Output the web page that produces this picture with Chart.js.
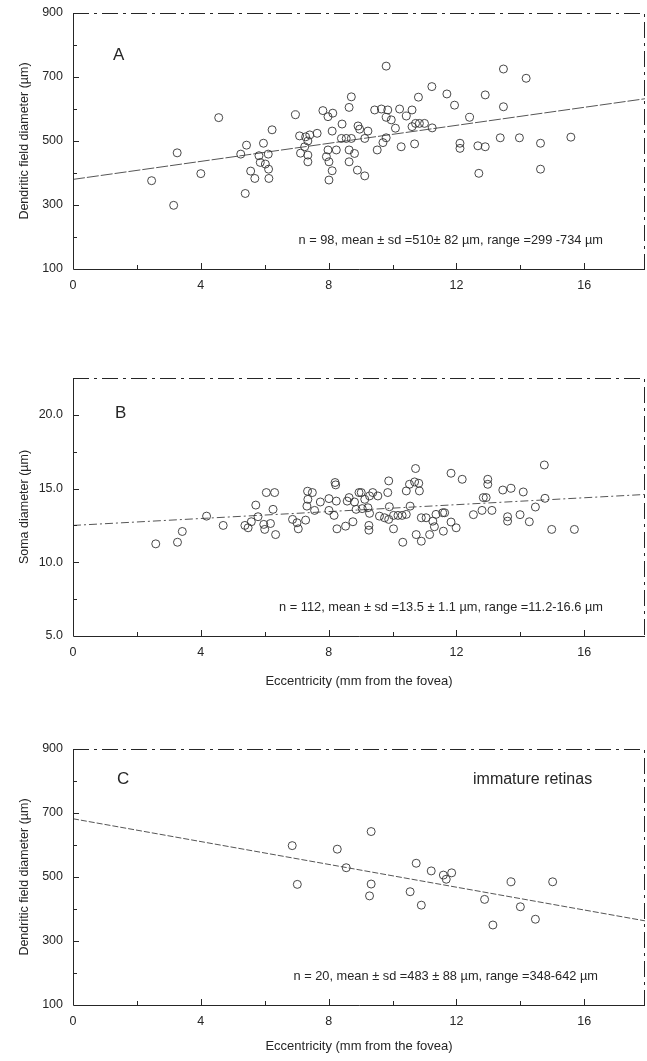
<!DOCTYPE html>
<html>
<head>
<meta charset="utf-8">
<script src="https://cdn.jsdelivr.net/npm/chart.js@4.4.0/dist/chart.umd.min.js"></script>
<style>
    html, body { margin: 0; padding: 0; background: #fff; overflow: hidden; }
    #page { position: relative; width: 647px; height: 1061px; overflow: hidden; }
    canvas { position: absolute; left: 0; }
</style>
</head>
<body>
<div id="page">
    <canvas id="chartA" width="654" height="310" style="top:-10px"></canvas>
    <canvas id="chartB" width="654" height="340" style="top:360px"></canvas>
    <canvas id="chartC" width="654" height="331" style="top:730px"></canvas>
</div>
<script>
// Dados (excentricidade em mm, diâmetros em µm)

// Painel A - diâmetro do campo dendrítico
const eccA = [2.46, 3.15, 3.26, 4.0, 4.56, 5.25, 5.43, 5.39, 5.56, 5.69, 5.82, 5.86, 5.96, 6.02, 6.11, 6.12, 6.13, 6.23,
    6.96, 7.09, 7.12, 7.25, 7.28, 7.35, 7.35, 7.35, 7.41, 7.64, 7.82, 7.98, 8.13, 7.93, 7.98, 8.01, 8.01, 8.11, 8.11, 8.24,
    8.42, 8.40, 8.55, 8.71, 8.64, 8.71, 8.64, 8.64, 8.81, 8.92, 8.90, 8.97, 9.13, 9.23, 9.13, 9.80, 9.44, 9.65, 9.85, 9.80,
    9.96, 10.22, 10.43, 10.61, 10.81, 10.09, 9.80, 9.70, 9.52, 10.27, 10.69, 10.61, 10.72, 10.84, 11.0, 11.24, 11.23, 11.70,
    11.94, 12.11, 12.11, 12.41, 12.67, 12.90, 12.70, 12.90, 13.37, 13.47, 13.47, 13.97, 14.18, 14.63, 14.63, 15.58];
const fieldA = [376, 299, 463, 398, 573, 459, 487, 336, 406, 383, 454, 433, 493, 428, 459, 412, 383, 535,
    582, 516, 462, 482, 513, 500, 456, 435, 519, 524, 595, 576, 587, 451, 472, 435, 378, 407, 531, 472,
    553, 508, 508, 508, 605, 638, 472, 435, 461, 547, 409, 537, 508, 531, 391, 734, 597, 600, 597, 574,
    566, 600, 578, 597, 637, 540, 510, 495, 472, 482, 491, 545, 555, 555, 555, 541, 670, 647,
    612, 493, 477, 574, 485, 482, 399, 644, 510, 607, 725, 510, 696, 493, 412, 512];

// Painel B - diâmetro do soma
const eccB = [2.59, 3.27, 3.42, 4.18, 4.70, 5.38, 5.48, 5.58, 5.72, 5.79, 5.97, 6.05, 6.31, 6.18, 6.0, 6.26, 6.34,
    6.87, 7.01, 7.05, 7.28, 7.32, 7.35, 7.34, 7.49, 7.56, 7.74, 8.01, 8.01, 8.20, 8.22, 8.24, 8.17, 8.26, 8.53, 8.64,
    8.58, 8.76, 8.81, 8.86, 8.95, 9.02, 9.13, 9.28, 9.05, 9.23, 9.28, 9.26, 9.26, 9.38, 9.54, 9.59, 9.75, 9.88, 9.88,
    9.85, 9.90, 10.03, 10.03, 10.17, 10.30, 10.43, 10.32, 10.43, 10.53, 10.69, 10.82, 10.84, 10.72, 10.55, 10.90, 11.05,
    10.74, 10.90, 11.16, 11.31, 11.26, 11.36, 11.57, 11.63, 11.59, 11.83, 11.99, 11.83, 12.18, 12.53, 12.80, 13.11,
    12.84, 12.93, 12.98, 12.98, 13.45, 13.71, 13.60, 13.60, 13.99, 14.09, 14.28, 14.47, 14.75, 14.77, 14.98, 15.69];
const somaB = [11.25, 11.36, 12.09, 13.13, 12.5, 12.5, 12.34, 12.75, 13.88, 13.09, 12.57, 14.73, 14.73, 12.63, 12.23, 13.59, 11.88,
    12.91, 12.68, 12.27, 12.86, 13.81, 14.27, 14.82, 14.73, 13.52, 14.09, 13.52, 14.32, 15.41, 15.25, 14.15, 13.18, 12.27, 12.45, 14.39,
    14.15, 12.75, 14.09, 13.59, 14.73, 14.73, 14.27, 14.5, 13.64, 13.7, 13.32, 12.5, 12.18, 14.73, 14.5, 13.13, 13.02, 12.91, 15.52,
    14.73, 13.77, 13.18, 12.27, 13.18, 13.18, 13.25, 11.36, 14.84, 15.29, 15.45, 15.36, 14.84, 16.36, 13.81, 13.02, 13.02,
    11.88, 11.43, 11.88, 12.41, 12.79, 13.25, 13.36, 13.36, 12.11, 12.73, 12.34, 16.04, 15.63, 13.23, 13.52, 13.52,
    14.39, 14.39, 15.63, 15.29, 14.9, 15.02, 13.09, 12.79, 13.23, 14.77, 12.75, 13.75, 16.6, 14.34, 12.23, 12.23];

// Painel C - retinas imaturas
const eccC = [6.86, 7.02, 8.27, 8.55, 9.33, 9.33, 9.28, 10.74, 10.55, 10.90, 11.21, 11.59, 11.68, 11.85, 12.88, 13.14, 13.71, 14.0, 14.47, 15.01];
const fieldC = [598, 477, 587, 529, 642, 478, 441, 543, 454, 412, 519, 506, 493, 513, 430, 350, 485, 407, 368, 485];

// Retas de regressão (valores nas extremidades do eixo x)
const fitX = [0, 17.9];
const fitA = [380, 632];
const fitB = [12.5, 14.6];
const fitC = [682, 363];

// Rótulos dos eixos
const xLabels = [0, 4, 8, 12, 16];
const yLabelsField = [100, 300, 500, 700, 900];
const yLabelsSoma = [5, 10, 15, 20];

const FONT = "'Liberation Sans', Arial, Helvetica, sans-serif";
const INK = '#262626';

// Plugin que desenha a moldura, os traços internos e os textos de cada painel
const panelDecor = {
    id: 'panelDecor',
    afterDraw(chart, args, opts) {
        const { ctx, chartArea } = chart;
        const { left, right, top, bottom } = chartArea;
        ctx.save();
        ctx.strokeStyle = INK;
        ctx.lineWidth = 1;

        // eixos esquerdo e inferior (contínuos)
        ctx.beginPath();
        ctx.moveTo(left + 0.5, top);
        ctx.lineTo(left + 0.5, bottom + 0.5);
        ctx.lineTo(right, bottom + 0.5);
        ctx.stroke();

        // bordas superior e direita (traço-ponto)
        ctx.setLineDash([16, 5, 3, 5]);
        ctx.beginPath();
        ctx.moveTo(left, top + 0.5);
        ctx.lineTo(right - 0.5, top + 0.5);
        ctx.lineTo(right - 0.5, bottom);
        ctx.stroke();
        ctx.setLineDash([]);

        // traços dos ticks, voltados para dentro
        const xs = chart.scales.x;
        xs.ticks.forEach(t => {
            if (t.value <= xs.min || t.value >= xs.max) return;
            const px = Math.round(xs.getPixelForValue(t.value)) + 0.5;
            const len = t.label ? 6 : 4;
            ctx.beginPath();
            ctx.moveTo(px, bottom);
            ctx.lineTo(px, bottom - len);
            ctx.stroke();
        });
        const ys = chart.scales.y;
        ys.ticks.forEach(t => {
            if (t.value <= ys.min || t.value >= ys.max) return;
            const py = Math.round(ys.getPixelForValue(t.value)) + 0.5;
            const len = t.label ? 6 : 4;
            ctx.beginPath();
            ctx.moveTo(left, py);
            ctx.lineTo(left + len, py);
            ctx.stroke();
        });

        // letra do painel
        ctx.fillStyle = INK;
        ctx.textBaseline = 'middle';
        ctx.textAlign = 'left';
        ctx.font = '17px ' + FONT;
        ctx.fillText(opts.letter, left + opts.letterDx, top + opts.letterDy);

        // texto extra (ex.: "immature retinas")
        if (opts.extra) {
            ctx.font = '16px ' + FONT;
            ctx.fillText(opts.extra, left + opts.extraDx, top + opts.extraDy);
        }

        // estatísticas
        ctx.font = '12.8px ' + FONT;
        ctx.textAlign = 'right';
        ctx.fillText(opts.note, opts.noteRight, bottom - 29);
        ctx.restore();
    }
};

// Função para criar um painel (gráfico de dispersão + reta de regressão)
function makePanel(canvasId, cfg) {
    const canvas = document.getElementById(canvasId);
    const ctx = canvas.getContext('2d');
    const points = cfg.xs.map((x, i) => ({ x: x, y: cfg.ys[i] }));
    const line = fitX.map((x, i) => ({ x: x, y: cfg.fit[i] }));

    return new Chart(ctx, {
        type: 'scatter',
        data: {
            datasets: [{
                data: points,
                pointStyle: 'circle',
                pointRadius: 4,
                pointHoverRadius: 4,
                pointBorderWidth: 0.9,
                borderColor: '#333',
                backgroundColor: 'rgba(0,0,0,0)'
            }, {
                type: 'line',
                data: line,
                borderColor: '#555',
                borderWidth: 1,
                borderDash: cfg.fitDash,
                pointRadius: 0,
                fill: false
            }]
        },
        options: {
            responsive: false,
            animation: false,
            devicePixelRatio: 1,
            layout: { padding: { top: cfg.padTop, right: 2, left: 0, bottom: 0 } },
            plugins: {
                legend: { display: false },
                tooltip: { enabled: false },
                panelDecor: cfg.decor
            },
            scales: {
                x: {
                    type: 'linear',
                    min: 0,
                    max: 17.9,
                    grid: { display: false, drawTicks: false },
                    border: { display: false },
                    ticks: {
                        stepSize: 2,
                        autoSkip: false,
                        maxRotation: 0,
                        padding: 9,
                        color: INK,
                        font: { family: FONT, size: 12.5 },
                        callback: v => xLabels.includes(v) ? String(v) : ''
                    },
                    title: {
                        display: cfg.xTitle,
                        text: 'Eccentricity (mm from the fovea)',
                        color: INK,
                        font: { family: FONT, size: 13 },
                        padding: { top: 0, bottom: cfg.xTitlePad }
                    },
                    afterFit: s => { s.height = cfg.xHeight; }
                },
                y: {
                    type: 'linear',
                    min: cfg.yMin,
                    max: cfg.yMax,
                    grid: { display: false, drawTicks: false },
                    border: { display: false },
                    ticks: {
                        stepSize: cfg.yStep,
                        autoSkip: false,
                        padding: 10,
                        color: INK,
                        font: { family: FONT, size: 12.5 },
                        callback: v => cfg.yLabels.includes(v) ? cfg.yFormat(v) : ''
                    },
                    title: {
                        display: true,
                        text: cfg.yTitle,
                        color: INK,
                        font: { family: FONT, size: 12.5 },
                        padding: { top: 17, bottom: 0 }
                    },
                    afterFit: s => { s.width = 73; }
                }
            }
        },
        plugins: [panelDecor]
    });
}

makePanel('chartA', {
    xs: eccA, ys: fieldA, fit: fitA, fitDash: [12, 2],
    yMin: 100, yMax: 900, yStep: 100, yLabels: yLabelsField, yFormat: v => String(v),
    yTitle: 'Dendritic field diameter (µm)',
    padTop: 23, xHeight: 31, xTitle: false, xTitlePad: 0,
    decor: { letter: 'A', letterDx: 40, letterDy: 42,
        note: 'n = 98, mean ± sd =510± 82 µm, range =299 -734 µm', noteRight: 603 }
});

makePanel('chartB', {
    xs: eccB, ys: somaB, fit: fitB, fitDash: [8, 3, 2, 3],
    yMin: 5, yMax: 22.5, yStep: 2.5, yLabels: yLabelsSoma, yFormat: v => v.toFixed(1),
    yTitle: 'Soma diameter (µm)',
    padTop: 18, xHeight: 64, xTitle: true, xTitlePad: 11,
    decor: { letter: 'B', letterDx: 42, letterDy: 35,
        note: 'n = 112, mean ± sd =13.5 ± 1.1 µm, range =11.2-16.6 µm', noteRight: 603 }
});

makePanel('chartC', {
    xs: eccC, ys: fieldC, fit: fitC, fitDash: [6, 2],
    yMin: 100, yMax: 900, yStep: 100, yLabels: yLabelsField, yFormat: v => String(v),
    yTitle: 'Dendritic field diameter (µm)',
    padTop: 19, xHeight: 56, xTitle: true, xTitlePad: 7,
    decor: { letter: 'C', letterDx: 44, letterDy: 30,
        extra: 'immature retinas', extraDx: 400, extraDy: 31,
        note: 'n = 20, mean ± sd =483 ± 88 µm, range =348-642 µm', noteRight: 598 }
});
</script>
</body>
</html>
